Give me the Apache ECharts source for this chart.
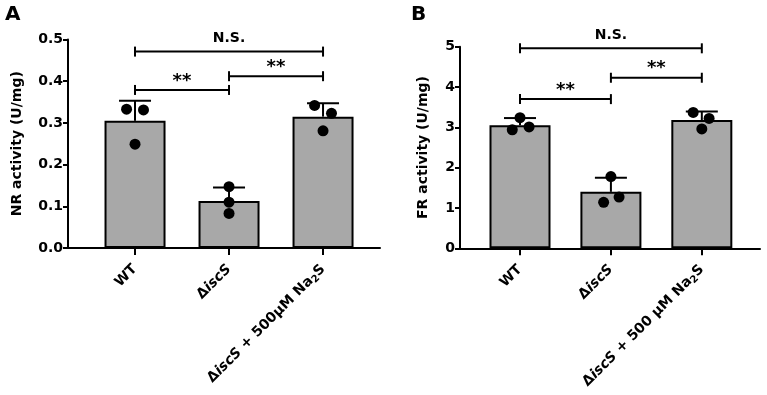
<!DOCTYPE html>
<html lang="en">
<head>
<meta charset="UTF-8">
<title></title>
<script src="https://cdn.jsdelivr.net/npm/echarts@6/dist/echarts.min.js"></script>
<style>
  html, body { margin: 0; padding: 0; background: #fff; }
  #chart { width: 767px; height: 395px; }
</style>
</head>
<body>
<div id="chart"></div>
<script>
// data
var groupsA = ['WT', 'ΔiscS', 'ΔiscS + 500μM Na2S'];
var groupsB = ['WT', 'ΔiscS', 'ΔiscS + 500 μM Na2S'];

var nrMean = [0.305, 0.113, 0.315];
var nrSd = [0.048, 0.032, 0.032];
var nrDots = [[0.333, 0.331, 0.249], [0.147, 0.110, 0.083], [0.342, 0.323, 0.281]];

var frMean = [3.05, 1.40, 3.18];
var frSd = [0.18, 0.35, 0.21];
var frDots = [[2.94, 3.24, 3.01], [1.78, 1.14, 1.27], [3.37, 3.22, 2.96]];

// significance brackets: [from group, to group, height]
var nrBrackets = [[0, 2, 0.471], [0, 1, 0.379], [1, 2, 0.412]];
var frBrackets = [[0, 2, 4.96], [0, 1, 3.70], [1, 2, 4.23]];
var bracketText = ['N.S.', '**', '**'];

var yTicksA = [0, 0.5, 0.1];
var yTicksB = [0, 5, 1];

// horizontal jitter of the dots inside a bar
var jitterA = [[-0.09, 0.09, 0], [0, 0, 0], [-0.09, 0.09, 0]];
var jitterB = [[-0.085, 0, 0.1], [0, -0.08, 0.09], [-0.095, 0.08, 0]];

var FONT = '"DejaVu Sans", Verdana, sans-serif';

function labelFmt(v, groups) {
    var i = Math.round(v);
    if (i === 0) return '{b|' + groups[0] + '}';
    if (i === 1) return '{b|Δ}{i|iscS}';
    // third group: "ΔiscS + 500... Na2S" with italic gene and subscript 2
    var mid = groups[2].slice(5, groups[2].length - 2);
    return '{b|Δ}{i|iscS}{b|' + mid + '}{s|2}{b|S}';
}
var rich = {
    b: { fontFamily: FONT, fontWeight: 'bold', fontSize: 14, color: '#000' },
    i: { fontFamily: FONT, fontWeight: 'bold', fontStyle: 'italic', fontSize: 14, color: '#000' },
    s: { fontFamily: FONT, fontWeight: 'bold', fontSize: 10, color: '#000', padding: [7, 0, 0, 0] }
};

function xAxisOpt(idx, min, max, groups) {
    return {
        type: 'value', gridIndex: idx, min: min, max: max,
        splitLine: { show: false },
        axisLine: { show: true, onZero: false, lineStyle: { color: '#000', width: 2 } },
        axisTick: { show: true, customValues: [0, 1, 2], length: 7, lineStyle: { color: '#000', width: 2 } },
        axisLabel: {
            customValues: [0, 1, 2], rotate: 45, margin: 19,
            formatter: function (v) { return labelFmt(v, groups); },
            rich: rich
        }
    };
}
function yAxisOpt(idx, ticks, name, gap, dec) {
    return {
        type: 'value', gridIndex: idx, min: ticks[0], max: ticks[1], interval: ticks[2],
        name: name, nameLocation: 'middle', nameGap: gap,
        nameTextStyle: { fontFamily: FONT, fontWeight: 'bold', fontSize: 14, color: '#000' },
        splitLine: { show: false },
        axisLine: { show: true, onZero: false, lineStyle: { color: '#000', width: 2 } },
        axisTick: { show: true, length: 5, lineStyle: { color: '#000', width: 2 } },
        axisLabel: {
            fontFamily: FONT, fontWeight: 'bold', fontSize: 14, color: '#000', margin: 5,
            formatter: function (v) { return v.toFixed(dec); }
        }
    };
}

function barData(mean) {
    return mean.map(function (m, i) { return [i, m]; });
}
function errData(mean, sd) {
    return mean.map(function (m, i) { return [i, m, sd[i]]; });
}
function dotData(dots, jit) {
    var out = [];
    dots.forEach(function (g, i) {
        g.forEach(function (v, k) { out.push([i + jit[i][k], v]); });
    });
    return out;
}

function renderErr(params, api) {
    var x = api.value(0), m = api.value(1), s = api.value(2);
    var b = api.coord([x, m]);
    var t = api.coord([x, m + s]);
    var st = { stroke: '#000', lineWidth: 2 };
    return {
        type: 'group', children: [
            { type: 'line', shape: { x1: b[0], y1: b[1], x2: t[0], y2: t[1] }, style: st },
            { type: 'line', shape: { x1: t[0] - 16, y1: t[1], x2: t[0] + 16, y2: t[1] }, style: st }
        ]
    };
}
function renderBracket(params, api) {
    var p1 = api.coord([api.value(0), api.value(2)]);
    var p2 = api.coord([api.value(1), api.value(2)]);
    var st = { stroke: '#000', lineWidth: 2 };
    var txt = bracketText[params.dataIndex];
    var star = txt === '**';
    return {
        type: 'group', children: [
            { type: 'line', shape: { x1: p1[0], y1: p1[1], x2: p2[0], y2: p2[1] }, style: st },
            { type: 'line', shape: { x1: p1[0], y1: p1[1] - 5, x2: p1[0], y2: p1[1] + 5 }, style: st },
            { type: 'line', shape: { x1: p2[0], y1: p2[1] - 5, x2: p2[0], y2: p2[1] + 5 }, style: st },
            {
                type: 'text', x: (p1[0] + p2[0]) / 2, y: p1[1] - (star ? 0 : 6),
                style: {
                    text: txt, fill: '#000', align: 'center', verticalAlign: 'bottom',
                    font: 'bold ' + (star ? 18 : 14) + 'px ' + FONT
                }
            }
        ]
    };
}

function panelSeries(idx, mean, sd, dots, jit, brackets) {
    return [
        {
            type: 'bar', xAxisIndex: idx, yAxisIndex: idx, barWidth: 61,
            data: barData(mean), z: 2,
            itemStyle: { color: '#a8a8a8', borderColor: '#000', borderWidth: 2 }
        },
        {
            type: 'custom', xAxisIndex: idx, yAxisIndex: idx, z: 3,
            renderItem: renderErr, data: errData(mean, sd)
        },
        {
            type: 'scatter', xAxisIndex: idx, yAxisIndex: idx, z: 4,
            symbolSize: 11, itemStyle: { color: '#000', opacity: 1 },
            data: dotData(dots, jit)
        },
        {
            type: 'custom', xAxisIndex: idx, yAxisIndex: idx, z: 5,
            encode: { x: [0, 1], y: 2 },
            renderItem: renderBracket, data: brackets
        }
    ];
}

var chart = echarts.init(document.getElementById('chart'));
chart.setOption({
    animation: false,
    backgroundColor: '#fff',
    title: [
        { text: 'A', left: 0, top: 0, textStyle: { fontFamily: FONT, fontWeight: 'bold', fontSize: 20, color: '#000' } },
        { text: 'B', left: 406, top: 0, textStyle: { fontFamily: FONT, fontWeight: 'bold', fontSize: 20, color: '#000' } }
    ],
    grid: [
        { left: 68, top: 39.5, right: 387, bottom: 147, containLabel: false, outerBoundsMode: 'none' },
        { left: 460, top: 46.7, right: 7, bottom: 146.7, containLabel: false, outerBoundsMode: 'none' }
    ],
    xAxis: [
        xAxisOpt(0, -0.713, 2.606, groupsA),
        xAxisOpt(1, -0.66, 2.64, groupsB)
    ],
    yAxis: [
        yAxisOpt(0, yTicksA, 'NR activity (U/mg)', 44, 1),
        yAxisOpt(1, yTicksB, 'FR activity (U/mg)', 30, 0)
    ],
    series: panelSeries(0, nrMean, nrSd, nrDots, jitterA, nrBrackets)
        .concat(panelSeries(1, frMean, frSd, frDots, jitterB, frBrackets))
});
</script>
</body>
</html>
